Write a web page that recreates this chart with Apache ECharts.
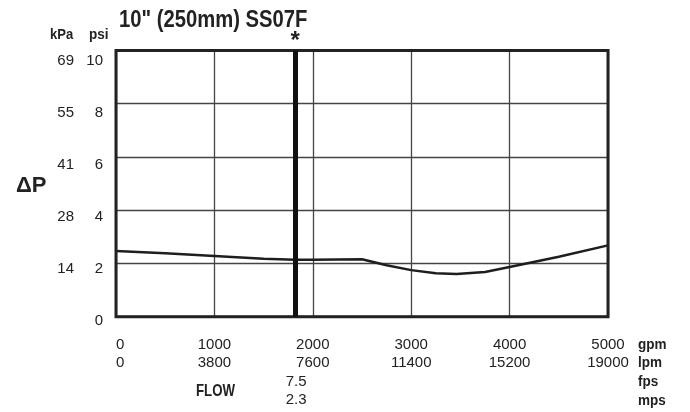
<!DOCTYPE html>
<html><head><meta charset="utf-8">
<script src="https://cdn.jsdelivr.net/npm/echarts@6/dist/echarts.min.js"></script>
<style>html,body{margin:0;padding:0;background:#fff}#c{width:690px;height:412px}</style>
</head><body><div id="c"></div><script>
const titleText = '10" (250mm) SS07F';
const gpmTicks = [0, 1000, 2000, 3000, 4000, 5000];
const lpmTicks = [0, 3800, 7600, 11400, 15200, 19000];
const psiTicks = [0, 2, 4, 6, 8, 10];
const kpaTicks = ['', 14, 28, 41, 55, 69];
const flowGpm = [0, 500, 1000, 1500, 1820, 2000, 2500, 2750, 3000, 3250, 3460, 3750, 4000, 4500, 5000];
const dpPsi   = [2.47, 2.38, 2.28, 2.18, 2.14, 2.14, 2.16, 1.93, 1.75, 1.63, 1.60, 1.68, 1.87, 2.25, 2.68];
const markerGpm = 1820;
const markerFps = '7.5';
const markerMps = '2.3';
const unitLabels = ['gpm', 'lpm', 'fps', 'mps'];

const FONT = '"Liberation Sans", Arial, sans-serif';
const chart = echarts.init(document.getElementById('c'), null, {renderer: 'canvas'});
const hidden = {show: false};
chart.setOption({
  animation: false,
  backgroundColor: '#fff',
  textStyle: {fontFamily: FONT, color: '#222'},
  grid: [
    {left: 116, right: 82, top: 50.5, bottom: 95.3, show: true, borderColor: '#222', borderWidth: 3, z: 5},
    {left: 116, right: 82, top: 61, bottom: 91.3}
  ],
  xAxis: [
    {type: 'value', gridIndex: 0, min: 0, max: 5000, interval: 1000,
     axisLine: hidden, axisTick: hidden,
     splitLine: {show: true, lineStyle: {color: '#444', width: 1.3}},
     axisLabel: {margin: 19, fontSize: 15, color: '#222', fontFamily: FONT, lineHeight: 18,
       alignMinLabel: 'left',
       formatter: v => { const i = gpmTicks.indexOf(v); return i < 0 ? '' : gpmTicks[i] + '\n' + lpmTicks[i]; }}},
    {type: 'value', gridIndex: 1, min: 0, max: 5000, show: false}
  ],
  yAxis: [
    {type: 'value', gridIndex: 0, min: 0, max: 10, interval: 2,
     axisLine: hidden, axisTick: hidden, axisLabel: hidden,
     splitLine: {show: true, lineStyle: {color: '#444', width: 1.3}}},
    {type: 'value', gridIndex: 1, min: 0, max: 10, interval: 2, position: 'left',
     axisLine: hidden, axisTick: hidden, splitLine: hidden,
     axisLabel: {margin: 13, fontSize: 15, color: '#222', fontFamily: FONT,
       formatter: v => { const i = psiTicks.indexOf(v); return i < 0 ? '' : String(psiTicks[i]); }}},
    {type: 'value', gridIndex: 1, min: 0, max: 10, interval: 2, position: 'left',
     axisLine: hidden, axisTick: hidden, splitLine: hidden,
     axisLabel: {margin: 42, fontSize: 15, color: '#222', fontFamily: FONT,
       formatter: v => { const i = psiTicks.indexOf(v); return i < 0 ? '' : String(kpaTicks[i]); }}}
  ],
  series: [{
    type: 'line', xAxisIndex: 0, yAxisIndex: 0,
    data: flowGpm.map((g, i) => [g, dpPsi[i]]),
    showSymbol: false, smooth: false,
    lineStyle: {color: '#1e1e1e', width: 2.5},
    z: 3,
    markLine: {
      silent: true, symbol: 'none', animation: false,
      lineStyle: {color: '#111', width: 5, type: 'solid'},
      label: {show: false},
      data: [{xAxis: markerGpm}]
    }
  }]
});

const mx = chart.convertToPixel({xAxisIndex: 0}, markerGpm);
const T = (text, x, y, size, bold, align, sx) => ({
  type: 'text', x: x, y: y, z: 10, scaleX: sx || 1,
  style: {text: text, fontFamily: FONT, fontSize: size, fontWeight: bold ? 'bold' : 'normal',
          fill: '#222', align: align || 'left', verticalAlign: 'middle'}
});
chart.setOption({
  graphic: [
    T(titleText, 119, 21, 23, true, 'left', 0.88),
    T('kPa', 50, 35, 15, true, 'left', 0.87),
    T('psi', 89, 35, 15, true, 'left', 0.9),
    T('ΔP', 16, 186, 22, true),
    T('*', mx, 41, 24, true, 'center'),
    T(markerFps, mx + 1, 382, 15, false, 'center'),
    T(markerMps, mx + 1, 400, 15, false, 'center'),
    T('FLOW', 196, 391, 17, true, 'left', 0.78),
    T(unitLabels[0], 638, 345, 15, true, 'left', 0.9),
    T(unitLabels[1], 638, 363, 15, true, 'left', 0.9),
    T(unitLabels[2], 638, 382, 15, true, 'left', 0.9),
    T(unitLabels[3], 638, 401, 15, true, 'left', 0.9)
  ]
});
</script></body></html>
